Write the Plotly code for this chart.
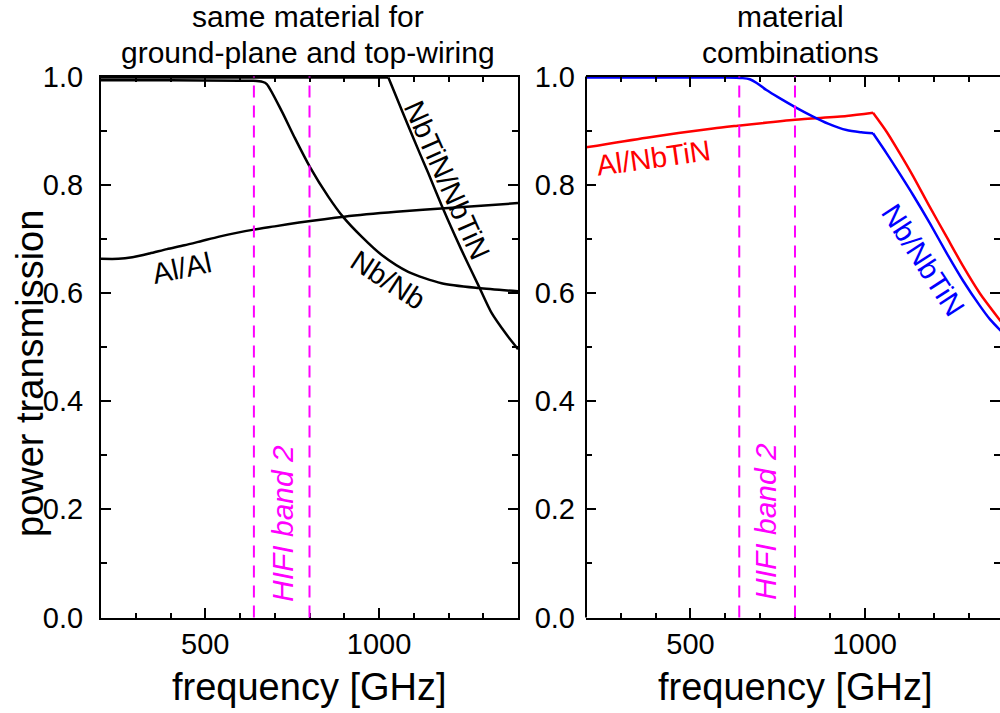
import plotly.graph_objects as go

# ---- data -------------------------------------------------------------
# same material for ground plane and top wiring
f_alal = [200, 250, 290, 340, 390, 440, 490, 540, 590, 640, 700, 770, 900, 1050, 1200, 1400]
t_alal = [0.663, 0.663, 0.666, 0.673, 0.681, 0.688, 0.696, 0.704, 0.711, 0.717, 0.723, 0.730,
          0.741, 0.750, 0.757, 0.766]

f_nbnb = [200, 400, 600, 640, 665, 677, 720, 758, 801, 854, 896, 950, 1008, 1084, 1180, 1286, 1400]
t_nbnb = [0.993, 0.993, 0.992, 0.992, 0.990, 0.986, 0.936, 0.886, 0.833, 0.778, 0.741, 0.704,
          0.670, 0.639, 0.618, 0.609, 0.603]

f_nbtin = [200, 600, 1000, 1027, 1050, 1084, 1118, 1142, 1180, 1219, 1253, 1286, 1324, 1367, 1400]
t_nbtin = [0.998, 0.998, 0.998, 0.998, 0.962, 0.909, 0.857, 0.821, 0.762, 0.705, 0.658, 0.614,
           0.563, 0.523, 0.496]

# material combinations
f_al_nbtin = [200, 374, 565, 635, 800, 948, 1024, 1063, 1101, 1139, 1187, 1235, 1283, 1331, 1388, 1400]
t_al_nbtin = [0.869, 0.887, 0.904, 0.909, 0.920, 0.927, 0.933, 0.898, 0.858, 0.816, 0.759, 0.704,
              0.649, 0.599, 0.550, 0.540]

f_nb_nbtin = [200, 400, 600, 650, 670, 690, 718, 756, 799, 852, 895, 948, 990, 1024, 1063, 1101,
              1139, 1187, 1235, 1283, 1331, 1360, 1400]
t_nb_nbtin = [0.998, 0.998, 0.998, 0.997, 0.995, 0.988, 0.975, 0.960, 0.944, 0.926, 0.913, 0.901,
              0.897, 0.895, 0.858, 0.820, 0.781, 0.729, 0.674, 0.622, 0.576, 0.551, 0.524]

# frequencies where a curve has a sharp corner (gap edge)
kink_nbtin = 1027
kink_combo = 1024

hifi_band2 = [640, 800]

x_ticks = [500, 1000]
y_ticks = [0.0, 0.2, 0.4, 0.6, 0.8, 1.0]

# ---- styling ----------------------------------------------------------
FONT = "Liberation Sans, Arial, Helvetica, sans-serif"
MAGENTA = "#ff00ff"
Y_DOM = [0.1339, 0.8927]

fig = go.Figure()


def add_curve(xs, ys, color, xa, ya, kink=None):
    """Smooth curve; a kink frequency splits it so the corner stays sharp."""
    pieces = [(xs, ys)]
    if kink is not None:
        k = xs.index(kink)
        pieces = [(xs[:k + 1], ys[:k + 1]), (xs[k:], ys[k:])]
    for px, py in pieces:
        fig.add_trace(go.Scatter(x=px, y=py, mode="lines", xaxis=xa, yaxis=ya,
                                 line=dict(color=color, width=2.5, shape="spline",
                                           smoothing=0.7),
                                 showlegend=False, hoverinfo="skip"))


add_curve(f_alal, t_alal, "black", "x", "y")
add_curve(f_nbnb, t_nbnb, "black", "x", "y")
add_curve(f_nbtin, t_nbtin, "black", "x", "y", kink=kink_nbtin)
add_curve(f_al_nbtin, t_al_nbtin, "#ff0000", "x2", "y2", kink=kink_combo)
add_curve(f_nb_nbtin, t_nb_nbtin, "#0000ff", "x2", "y2", kink=kink_combo)


def xaxis_style(domain, rng, anchor):
    return dict(domain=domain, range=rng, anchor=anchor, automargin=False,
                showgrid=False, zeroline=False,
                showline=True, linecolor="black", linewidth=2, mirror="ticks",
                ticks="inside", ticklen=10, tickwidth=1.5, tickcolor="black",
                tickvals=x_ticks, ticklabelstandoff=0,
                tickfont=dict(family=FONT, size=29, color="black"),
                minor=dict(ticks="inside", ticklen=5, tickwidth=1.5, tickcolor="black",
                           tick0=200, dtick=100, showgrid=False))


def yaxis_style(anchor, showline):
    return dict(domain=Y_DOM, range=[0, 1], anchor=anchor, automargin=False,
                showgrid=False, zeroline=False,
                showline=showline, linecolor="black", linewidth=2, mirror="ticks",
                ticks="inside", ticklen=10, tickwidth=1.5, tickcolor="black",
                tickvals=y_ticks, tickformat=".1f", ticklabelstandoff=10,
                tickfont=dict(family=FONT, size=29, color="black"),
                minor=dict(ticks="inside", ticklen=6, tickwidth=1.5, tickcolor="black",
                           tick0=0, dtick=0.1, showgrid=False))


fig.update_layout(
    width=1000, height=713,
    margin=dict(l=0, r=0, t=0, b=0, autoexpand=False),
    paper_bgcolor="white", plot_bgcolor="white",
    font=dict(family=FONT, color="black"),
    xaxis=xaxis_style([0.101, 0.518], [200, 1400], "y"),
    yaxis=yaxis_style("x", True),
    xaxis2=xaxis_style([0.586, 1.0], [200, 1388.6], "y2"),
    yaxis2=yaxis_style("x2", False),
)

# left frame edge of the right panel (its right edge runs off the page)
fig.add_shape(type="line", xref="x2 domain", yref="y2 domain", x0=0, x1=0, y0=0, y1=1,
              line=dict(color="black", width=2))

# HIFI band 2 edges in both panels
for xr, yr in [("x", "y domain"), ("x2", "y2 domain")]:
    for fb in hifi_band2:
        fig.add_shape(type="line", xref=xr, yref=yr, x0=fb, x1=fb, y0=0, y1=1,
                      line=dict(color=MAGENTA, width=2, dash="12px,8px"))


def px_x(p):
    return p / 1000.0


def px_y(p):
    return (713.0 - p) / 713.0


def label(text, x, y, size, color="black", angle=0):
    fig.add_annotation(text=text, x=px_x(x), y=px_y(y), xref="paper", yref="paper",
                       xanchor="center", yanchor="middle", showarrow=False, textangle=angle,
                       font=dict(family=FONT, size=size, color=color))


# panel headings
label("same material for", 308, 16.6, 30)
label("ground-plane and top-wiring", 308, 52.6, 30)
label("material", 790, 16.6, 30)
label("combinations", 790, 52.6, 30)

# axis titles
label("frequency [GHz]", 309, 686.8, 38)
label("frequency [GHz]", 795, 686.8, 38)
label("power transmission", 30, 374, 38, angle=-90)

# curve labels
label("Al/Al", 182, 268, 29, angle=-12)
label("Nb/Nb", 388, 280, 29, angle=33)
label("NbTiN/NbTiN", 447, 180, 29, angle=66)
label("Al/NbTiN", 653, 158, 29, color="#ff0000", angle=-8)
label("Nb/NbTiN", 923, 260, 29, color="#0000ff", angle=57)
label("<i>HIFI band 2</i>", 282, 524, 30, color=MAGENTA, angle=-90)
label("<i>HIFI band 2</i>", 765, 522, 30, color=MAGENTA, angle=-90)

fig.write_html("out.html")
